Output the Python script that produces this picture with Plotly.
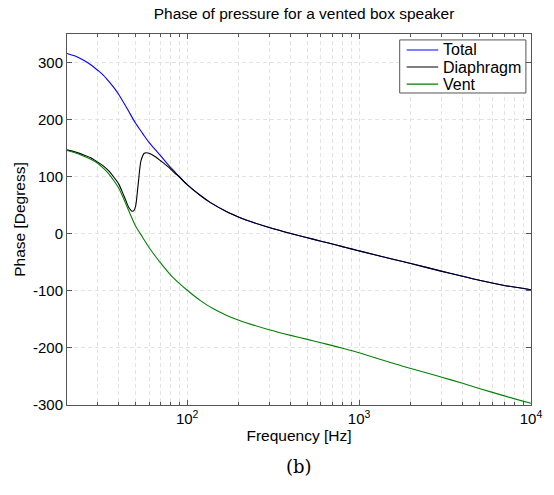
import plotly.graph_objects as go

# ---- data ----
total_f = [20, 22.5, 25, 27.5, 30, 32.5, 35, 37.5, 40, 45, 50, 55, 60, 65, 70, 77, 85, 90, 100, 120, 136, 169,
           200, 220, 300, 400, 500, 600, 700, 800, 900, 1000, 1574, 2000, 3000, 4000, 5000, 7000, 10000]
total_p = [316, 311, 304, 296, 287, 278, 267, 256, 244, 218, 194, 176, 160, 148, 137, 122, 108, 100, 86,
           66.5, 55, 39, 29, 24, 11, 0.5, -7, -13, -18, -22.5, -26.5, -30, -44.5, -52, -65.5, -74.5, -81.5,
           -90.5, -98]

diaph_f = [20, 22.5, 25, 27.5, 30, 32.5, 35, 37.5, 40, 42, 43.6, 45.6, 47, 48, 49, 50.1, 51.9, 53.9, 56.3, 58,
           60, 63, 66, 70, 77, 85, 90, 100, 120, 136, 169, 200, 220, 300, 400, 500, 600, 700, 800, 900, 1000,
           1574, 2000, 3000, 4000, 5000, 7000, 10000]
diaph_p = [147, 143, 138, 133, 126, 119, 110, 99, 87, 73, 61, 47, 41.5, 39.5, 40.5, 48, 87, 128, 141, 142,
           141, 138, 134, 128, 118, 106, 99.5, 86, 66.5, 55, 39, 29, 24, 11, 0.5, -7, -13, -18, -22.5, -26.5,
           -30, -44.5, -52, -65.5, -74.5, -81.5, -90.5, -98]

vent_f = [20, 22.5, 25, 27.5, 30, 32.5, 35, 37.5, 40, 43.6, 47, 50, 55, 60, 65, 70, 80, 90, 100, 120, 142, 170,
          200, 220, 300, 400, 500, 600, 700, 800, 900, 1000, 1574, 2000, 3000, 4000, 5000, 7000, 10000]
vent_p = [146, 141.5, 136, 130.5, 124, 115, 105, 93, 80, 55, 32, 14, -6, -24, -38.5, -51, -72, -87, -99,
          -117.5, -131.4, -143, -151.5, -155.8, -168.2, -178, -185, -191, -196, -200.5, -204.5, -208.5,
          -227, -236, -251, -262, -271, -284, -297]

series_names = ["Total", "Diaphragm", "Vent"]
series_colors = ["#0000ff", "#000000", "#008000"]

x_tickvals = [100, 1000, 10000]
x_ticktext = ["10<sup>2</sup>", "10<sup>3</sup>", "10<sup>4</sup>"]
x_minor = [30, 40, 50, 60, 70, 80, 90, 200, 300, 400, 500, 600, 700, 800, 900,
           2000, 3000, 4000, 5000, 6000, 7000, 8000, 9000]
y_tickvals = [-300, -200, -100, 0, 100, 200, 300]
y_ticktext = ["-300", "-200", "-100", "0", "100", "200", "300"]

FONT = "Liberation Sans, Arial, sans-serif"
GRID = "#e2e2e2"
GDASH = "4px,3px"
AXC = "#555555"

fig = go.Figure()
for xs, ys, nm, col in zip([total_f, diaph_f, vent_f], [total_p, diaph_p, vent_p], series_names, series_colors):
    fig.add_trace(go.Scatter(x=xs, y=ys, mode="lines", name=nm, showlegend=False,
                             line=dict(color=col, width=1.1, shape="spline", smoothing=0.8)))

axis_common = dict(showline=True, linecolor=AXC, linewidth=1, mirror="allticks",
                   ticks="inside", ticklen=5, tickcolor=AXC,
                   showgrid=True, gridcolor=GRID, griddash=GDASH, gridwidth=1,
                   zeroline=False, tickfont=dict(family=FONT, size=15, color="#000000"))

fig.update_xaxes(type="log", range=[1.30103, 4], tickmode="array",
                 tickvals=x_tickvals, ticktext=x_ticktext,
                 minor=dict(tickmode="array", tickvals=x_minor, ticks="inside", ticklen=3,
                            tickcolor=AXC, showgrid=True, gridcolor=GRID, griddash=GDASH),
                 title=dict(text="Frequency [Hz]", font=dict(family=FONT, size=15.5, color="#000000"),
                            standoff=4),
                 **axis_common)
fig.update_yaxes(range=[-300, 350], tickmode="array", tickvals=y_tickvals, ticktext=y_ticktext,
                 title=dict(text="Phase [Degress]", font=dict(family=FONT, size=15.5, color="#000000"),
                            standoff=3),
                 **axis_common)

# ---- legend box (drawn in paper coordinates, MATLAB style) ----
L_X0, L_X1, L_Y0, L_Y1 = 0.717, 0.989, 0.841, 0.984
line_x0, line_x1, text_x = 0.732, 0.800, 0.808
row_y = [0.957, 0.911, 0.865]
shapes = [dict(type="rect", xref="paper", yref="paper", x0=L_X0, x1=L_X1, y0=L_Y0, y1=L_Y1,
               line=dict(color=AXC, width=1), fillcolor="white", layer="above")]
annotations = []
for nm, col, ry in zip(series_names, series_colors, row_y):
    shapes.append(dict(type="line", xref="paper", yref="paper", x0=line_x0, x1=line_x1, y0=ry, y1=ry,
                       line=dict(color=col, width=1.1), layer="above"))
    annotations.append(dict(text=nm, xref="paper", yref="paper", x=text_x, y=ry, xanchor="left",
                            yanchor="middle", showarrow=False, height=17, borderpad=0,
                            font=dict(family=FONT, size=16, color="#000000")))

annotations.append(dict(text="(b)", xref="paper", yref="paper", x=0.5, y=-0.165,
                        xanchor="center", yanchor="middle", showarrow=False,
                        font=dict(family="DejaVu Serif, serif", size=18, color="#000000")))

fig.update_layout(
    width=554, height=495,
    margin=dict(l=67, r=13, t=34, b=90),
    paper_bgcolor="white", plot_bgcolor="white",
    title=dict(text="Phase of pressure for a vented box speaker", x=0.5488, xanchor="center",
               y=0.972, yanchor="middle", font=dict(family=FONT, size=15.5, color="#000000")),
    showlegend=False,
    shapes=shapes,
    annotations=annotations,
)

fig.write_html("out.html")
